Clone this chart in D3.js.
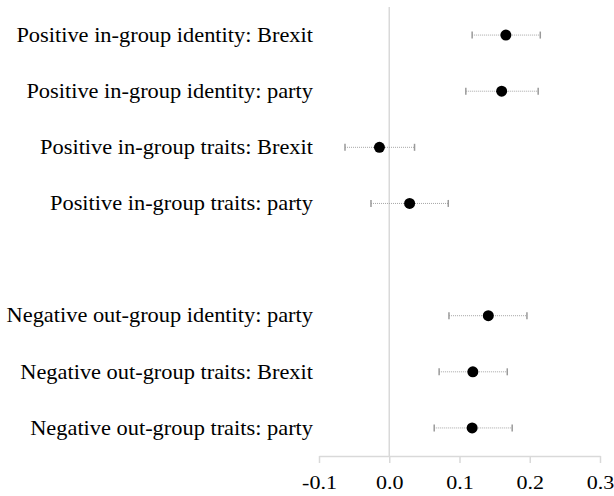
<!DOCTYPE html>
<html lang="en">
<head>
    <meta charset="UTF-8">
    <title>Effects</title>
    <script src="https://d3js.org/d3.v7.min.js"></script>
    <style>
        body { margin: 0; background: #fff; }
        text { font-family: "Liberation Serif", "Times New Roman", serif; fill: #000; }
    </style>
</head>
<body>
    <svg width="614" height="496"></svg>

    <script>
        // Data
        const labels = [
            "Positive in-group identity: Brexit",
            "Positive in-group identity: party",
            "Positive in-group traits: Brexit",
            "Positive in-group traits: party",
            "",
            "Negative out-group identity: party",
            "Negative out-group traits: Brexit",
            "Negative out-group traits: party"
        ];
        const estimates = [0.166, 0.160, -0.014, 0.029, null, 0.141, 0.119, 0.118];
        const lower = [0.118, 0.109, -0.063, -0.026, null, 0.085, 0.071, 0.064];
        const upper = [0.215, 0.212, 0.036, 0.084, null, 0.196, 0.168, 0.175];
        const xTicks = [-0.1, 0.0, 0.1, 0.2, 0.3];

        const rows = labels.map((l, i) => ({ key: "r" + i, label: l, est: estimates[i], lo: lower[i], hi: upper[i] }));

        const margin = { top: 7, right: 14, bottom: 40, left: 319 };
        const width = 614 - margin.left - margin.right;
        const height = 496 - margin.top - margin.bottom;

        const svg = d3.select("svg")
            .append("g")
            .attr("transform", `translate(${margin.left},${margin.top})`);

        const x = d3.scaleLinear().domain([-0.1, 0.3]).range([0, 281]);
        const y = d3.scaleBand().domain(rows.map(d => d.key)).range([0, height]);
        const cy = d => y(d.key) + y.bandwidth() / 2;

        // X axis
        const xAxis = d3.axisBottom(x).tickValues(xTicks).tickSize(7).tickSizeOuter(0);
        const gx = svg.append("g")
            .attr("transform", `translate(0,${height})`)
            .call(xAxis);
        gx.select(".domain").attr("stroke", "#d9d9d9").attr("stroke-width", 1.5);
        gx.selectAll(".tick line").attr("stroke", "#d9d9d9").attr("stroke-width", 1.5);
        gx.selectAll(".tick text").remove();
        gx.selectAll(".tick").append("text")
            .attr("transform", "translate(0,33) scale(1.16,1)")
            .attr("text-anchor", "middle")
            .style("font-size", "19px")
            .style("font-family", "'Liberation Serif', 'Times New Roman', serif")
            .attr("fill", "#000")
            .text(d => d3.format(".1f")(d).replace("−", "-"));

        // Zero line
        svg.append("line")
            .attr("x1", x(0)).attr("x2", x(0))
            .attr("y1", 0).attr("y2", height)
            .attr("stroke", "#d9d9d9")
            .attr("stroke-width", 1.5);

        // Row labels
        svg.selectAll(".label")
            .data(rows.filter(d => d.label))
            .enter().append("text")
            .attr("class", "label")
            .attr("transform", d => `translate(-6,${cy(d) + 6.7}) scale(1.12,1)`)
            .attr("text-anchor", "end")
            .style("font-size", "20px")
            .text(d => d.label);

        const pts = rows.filter(d => d.est !== null);

        // Error bars
        svg.selectAll(".err")
            .data(pts)
            .enter().append("line")
            .attr("x1", d => x(d.lo))
            .attr("x2", d => x(d.hi))
            .attr("y1", cy)
            .attr("y2", cy)
            .attr("stroke", "#a6a6a6")
            .attr("stroke-width", 1)
            .attr("stroke-dasharray", "1,1");

        ["lo", "hi"].forEach(k => {
            svg.selectAll(".cap-" + k)
                .data(pts)
                .enter().append("line")
                .attr("x1", d => x(d[k]))
                .attr("x2", d => x(d[k]))
                .attr("y1", d => cy(d) - 3.5)
                .attr("y2", d => cy(d) + 3.5)
                .attr("stroke", "#9a9a9a")
                .attr("stroke-width", 1.5);
        });

        // Points
        svg.selectAll(".dot")
            .data(pts)
            .enter().append("circle")
            .attr("cx", d => x(d.est))
            .attr("cy", cy)
            .attr("r", 5.5)
            .attr("fill", "#000");
    </script>
</body>
</html>
